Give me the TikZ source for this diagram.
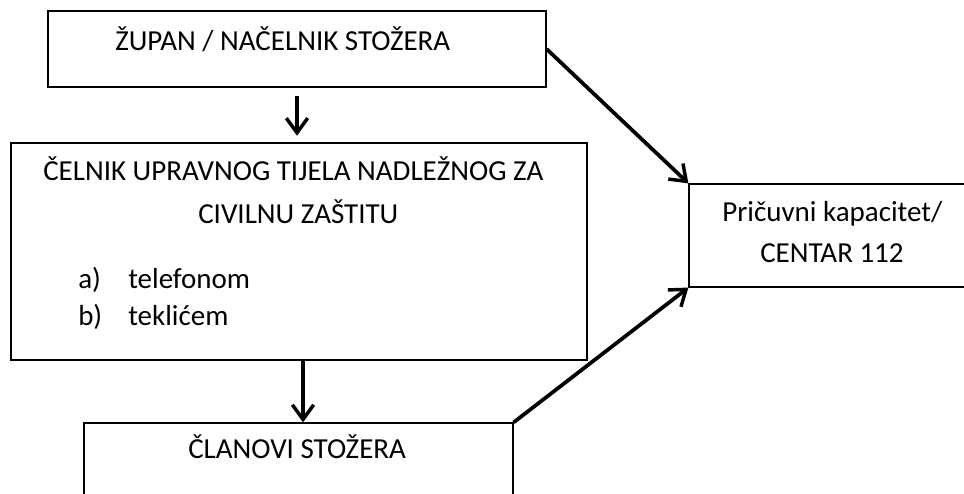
\documentclass[tikz,border=0pt]{standalone}
\usepackage{fontspec}
\setmainfont{Carlito}
\usetikzlibrary{arrows.meta,fit}
\begin{document}
\begin{tikzpicture}[x=0.75pt,y=-0.75pt,
  box/.style={draw=black,line width=0.9pt,inner sep=0pt,rectangle},
  lbl/.style={anchor=base west,inner sep=0pt,font=\fontsize{21.75}{26}\selectfont},
  arr/.style={line width=2.8pt,-{Straight Barb[length=11pt,width=16pt,line width=2.6pt]}}]
\useasboundingbox (0,0) rectangle (964,493);
\clip (0,0) rectangle (964,493);
\fill[white] (0,0) rectangle (964,493);
% boxes
\node[box,fit={(48,11) (546,87)}] (b1) {};
\node[box,fit={(11,143) (587,360)}] (b2) {};
\node[box,fit={(84,423) (513,530)}] (b3) {};
\node[box,fit={(689,184) (1010,287)}] (b4) {};
% texts
\node[lbl] (t1) at (115,50) {ŽUPAN / NAČELNIK STOŽERA};
\node[lbl] (t2a) at (43,180) {ČELNIK UPRAVNOG TIJELA NADLEŽNOG ZA};
\node[lbl] (t2b) at (198,223) {CIVILNU ZAŠTITU};
\node[lbl] (la) at (78,288) {a)};
\node[lbl] (ta) at (128,288) {telefonom};
\node[lbl] (lb) at (78,325) {b)};
\node[lbl] (tb) at (128,325) {teklićem};
\node[lbl] (t3) at (188,458) {ČLANOVI STOŽERA};
\node[lbl] (t4a) at (722,221) {Pričuvni kapacitet/};
\node[lbl] (t4b) at (760,262) {CENTAR 112};
% connectors
\draw[arr,shorten <=6pt,shorten >=5pt] (b1.south) -- (b1.south |- b2.north);
\draw[arr] ([xshift=3pt]b2.south) -- ([xshift=3pt]b2.south |- b3.north);
\draw[arr] (b1.east) -- (b4.north west);
\draw[arr] (b3.north east) -- (b4.south west);
\end{tikzpicture}
\end{document}
